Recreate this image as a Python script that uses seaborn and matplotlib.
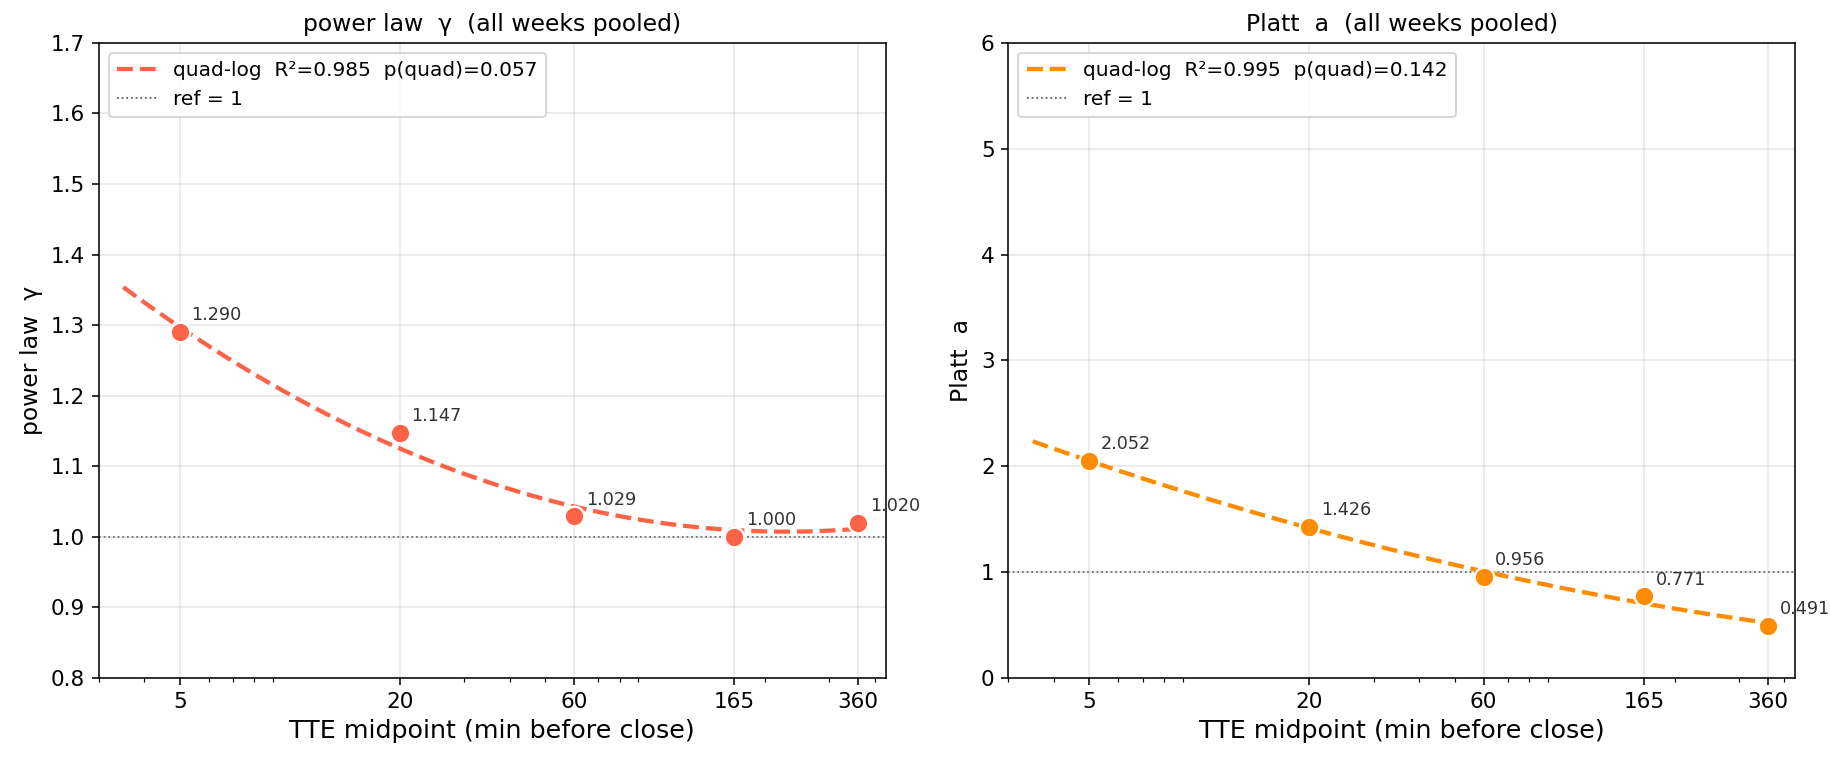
import numpy as np
import pandas as pd
import matplotlib
matplotlib.use("Agg")
import matplotlib.pyplot as plt
import seaborn as sns

# TTE bin midpoints (minutes before close)
tte_mid = [5, 20, 60, 165, 360]
tick_labels = ["5", "20", "60", "165", "360"]

# pooled estimates per bin
gamma_vals = [1.290, 1.147, 1.029, 1.000, 1.020]
platt_a_vals = [2.052, 1.426, 0.956, 0.771, 0.491]

gamma_fit_label = "quad-log  R²=0.985  p(quad)=0.057"
platt_fit_label = "quad-log  R²=0.995  p(quad)=0.142"

panels = [
    dict(vals=gamma_vals, name="power law  γ", color="#FF6347",
         fit_label=gamma_fit_label, ylim=(0.8, 1.7), yticks=np.arange(0.8, 1.71, 0.1), fmt="%.1f"),
    dict(vals=platt_a_vals, name="Platt  a", color="#FF8C00",
         fit_label=platt_fit_label, ylim=(0, 6), yticks=np.arange(0, 7, 1), fmt="%d"),
]

DPI = 140.77
fig, axes = plt.subplots(1, 2, figsize=(1830 / DPI, 766 / DPI), dpi=DPI)
fig.subplots_adjust(left=0.054, right=0.981, top=0.944, bottom=0.115, wspace=0.156)

for ax, p in zip(axes, panels):
    x = np.array(tte_mid, dtype=float)
    y = np.array(p["vals"])
    # quadratic fit in log(x)
    coef = np.polyfit(np.log(x), y, 2)
    xs = np.geomspace(x.min() * 0.7, x.max() * 1.05, 200)
    fit_df = pd.DataFrame({"x": xs, "y": np.polyval(coef, np.log(xs))})
    pts_df = pd.DataFrame({"x": x, "y": y})

    sns.lineplot(data=fit_df, x="x", y="y", ax=ax, color=p["color"], lw=2.2,
                 linestyle="--", label=p["fit_label"], zorder=2)
    ax.axhline(1, color="#555555", lw=0.9, linestyle=":", label="ref = 1", zorder=1)
    sns.scatterplot(data=pts_df, x="x", y="y", ax=ax, color=p["color"], s=100,
                    edgecolor="white", linewidth=1.2, zorder=3, legend=False)
    for xi, yi in zip(x, y):
        ax.annotate(f"{yi:.3f}", (xi, yi), xytext=(6, 6), textcoords="offset points",
                    fontsize=9, color="#333333")

    ax.set_xscale("log")
    ax.set_xlim(3, 428)
    ax.set_xticks(tte_mid)
    ax.set_xticklabels(tick_labels)
    ax.set_ylim(*p["ylim"])
    ax.set_yticks(p["yticks"])
    ax.yaxis.set_major_formatter(matplotlib.ticker.FormatStrFormatter(p["fmt"]))
    ax.grid(True, which="major", alpha=0.3)
    ax.tick_params(labelsize=11)
    ax.set_xlabel("TTE midpoint (min before close)", fontsize=13)
    ax.set_ylabel(p["name"], fontsize=12)
    ax.set_title(p["name"] + "  (all weeks pooled)", fontsize=12)
    ax.legend(loc="upper left", fontsize=10.3)

fig.savefig("out.png", dpi=DPI)
